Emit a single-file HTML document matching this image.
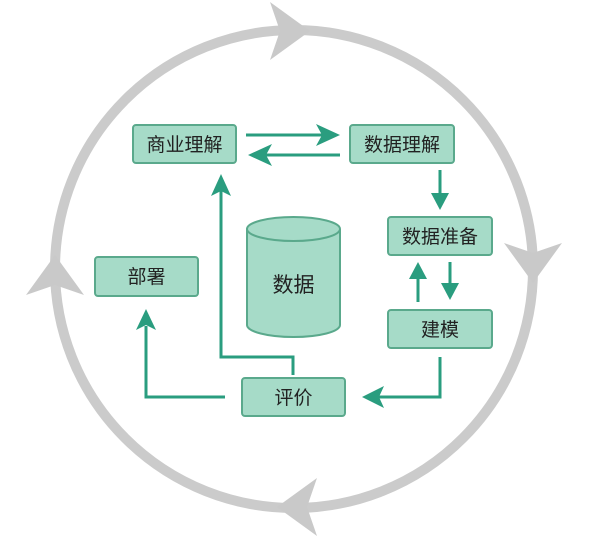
<!DOCTYPE html>
<html><head><meta charset="utf-8"><style>
body{margin:0;background:#fff;width:600px;height:541px;overflow:hidden}
svg{display:block}
text{font-family:"Liberation Sans","Noto Sans CJK SC",sans-serif;font-size:19px;fill:#222;text-anchor:middle}
</style></head><body>
<svg width="600" height="541" viewBox="0 0 600 541">
<defs>
<path id="gh" d="M0,0 L-40,-29 L-30,0 L-40,29 Z" fill="#c9c9c9"/>
</defs>
<circle cx="294" cy="269" r="239" fill="none" stroke="#cbcbcb" stroke-width="10"/>
<use href="#gh" transform="translate(310,31)"/>
<use href="#gh" transform="translate(533,283) rotate(90)"/>
<use href="#gh" transform="translate(277,507) rotate(180)"/>
<use href="#gh" transform="translate(55,255) rotate(-90)"/>
<g fill="#a6dbc8" stroke="#5aa98c" stroke-width="2">
<rect x="133" y="125" width="103" height="38" rx="3"/>
<rect x="350" y="125" width="104" height="38" rx="3"/>
<rect x="388" y="217" width="104" height="38" rx="3"/>
<rect x="95" y="257" width="103" height="39" rx="3"/>
<rect x="388" y="310" width="104" height="38" rx="3"/>
<rect x="242" y="378" width="103" height="38" rx="3"/>
<path d="M247,229 L247,325 A46.5,12 0 0 0 340,325 L340,229"/>
<ellipse cx="293.5" cy="229" rx="46.5" ry="12"/>
</g>
<g fill="none" stroke="#2a9d7f" stroke-width="3">
<path d="M246,135 L322,135"/>
<path d="M340,155 L264,155"/>
<path d="M440,170 L440,196"/>
<path d="M418,302 L418,276"/>
<path d="M450,262 L450,288"/>
<path d="M440,357 L440,397 L378,397"/>
<path d="M293,375 L293,357 L221,357 L221,190"/>
<path d="M225,397 L146,397 L146,326"/>
</g>
<g fill="#2a9d7f">
<path d="M340,135 L316,124 L322,135 L316,146Z"/>
<path d="M248,155 L272,144 L266,155 L272,166Z"/>
<path d="M440,210 L431,193 L449,193Z"/>
<path d="M418,262 L409,279 L427,279Z"/>
<path d="M450,300 L441,283 L459,283Z"/>
<path d="M362,397 L384,386 L379,397 L384,408Z"/>
<path d="M221,174 L211,196 L221,191 L231,196Z"/>
<path d="M146,309 L136,330 L146,325 L156,330Z"/>
</g>
<text x="184.5" y="151">商业理解</text>
<text x="402" y="151">数据理解</text>
<text x="440" y="243">数据准备</text>
<text x="146.5" y="283">部署</text>
<text x="440" y="336">建模</text>
<text x="293.5" y="404">评价</text>
<text x="293.5" y="292" style="font-size:21px">数据</text>
</svg>
</body></html>
